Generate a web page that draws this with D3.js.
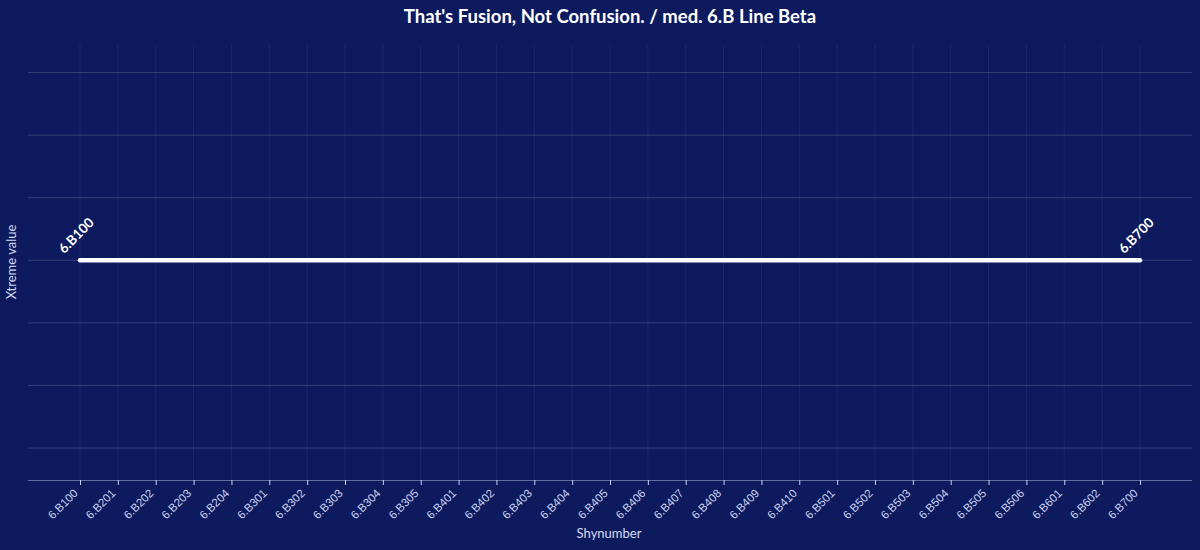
<!DOCTYPE html>
<html>
<head>
<meta charset="utf-8">
<script src="https://cdn.jsdelivr.net/npm/d3@7"></script>
<style>
  body { margin:0; background:#0d1b5e; }
  svg { display:block; font-family:"Source Sans Pro","Lato","Noto Sans",sans-serif; }
  .grid-y line { stroke:rgba(255,255,255,0.16); }
  .grid-x line { stroke:rgba(255,255,255,0.06); }
  .x-axis path { stroke:rgba(200,210,245,0.45); }
  .x-axis line { stroke:#c8d0f0; }
  .x-axis text { fill:#c8d0f0; font-size:11.5px; }
</style>
</head>
<body>
<div id="container"></div>
<script>
var categories = ["6.B100","6.B201","6.B202","6.B203","6.B204","6.B301","6.B302","6.B303","6.B304","6.B305",
  "6.B401","6.B402","6.B403","6.B404","6.B405","6.B406","6.B407","6.B408","6.B409","6.B410",
  "6.B501","6.B502","6.B503","6.B504","6.B505","6.B506","6.B601","6.B602","6.B700"];
var lineCategories = ["6.B100","6.B700"];
var lineValues = [0, 0];
var gridValues = [-3, -2, -1, 0, 1, 2, 3];

var W = 1200, H = 550;
var svg = d3.select("#container").append("svg")
  .attr("width", W).attr("height", H);

svg.append("rect").attr("width", W).attr("height", H).attr("fill", "#0d1b5e");

var plotLeft = 28, plotRight = 1192, plotTop = 45, plotBottom = 480;

var x = d3.scalePoint()
  .domain(categories)
  .range([plotLeft, plotRight])
  .padding(1.374);

var y = d3.scaleLinear()
  .domain([-3.51, 3.44])
  .range([plotBottom, plotTop]);

// horizontal grid
svg.append("g").attr("class", "grid-y")
  .selectAll("line").data(gridValues).enter().append("line")
    .attr("x1", plotLeft).attr("x2", plotRight)
    .attr("y1", function(d){ return y(d); })
    .attr("y2", function(d){ return y(d); });

// vertical grid
svg.append("g").attr("class", "grid-x")
  .selectAll("line").data(categories).enter().append("line")
    .attr("x1", function(d){ return x(d); })
    .attr("x2", function(d){ return x(d); })
    .attr("y1", plotTop).attr("y2", plotBottom);

// x axis
var xAxis = d3.axisBottom(x).tickSize(5).tickSizeOuter(0);
var gx = svg.append("g").attr("class", "x-axis")
  .attr("transform", "translate(0," + plotBottom + ")")
  .call(xAxis);
gx.select(".domain").attr("d", "M" + plotLeft + ",0.5H" + plotRight);
gx.selectAll(".tick text")
  .attr("text-anchor", "end")
  .attr("dy", null).attr("y", 0)
  .attr("transform", "translate(-2,14) rotate(-45)");

// line
var line = d3.line()
  .x(function(d){ return x(d.c); })
  .y(function(d){ return y(d.v); });
var pts = lineCategories.map(function(c, i){ return {c:c, v:lineValues[i]}; });

svg.append("path").datum(pts)
  .attr("d", line)
  .attr("fill", "none")
  .attr("stroke", "#ffffff")
  .attr("stroke-width", 4.5)
  .attr("stroke-linecap", "round");

svg.selectAll(".pt-label").data(pts).enter().append("text")
  .attr("class", "pt-label")
  .attr("transform", function(d){ return "translate(" + (x(d.c) - 4) + "," + (y(d.v) - 25) + ") rotate(-45)"; })
  .attr("text-anchor", "middle")
  .attr("dominant-baseline", "central")
  .attr("fill", "#ffffff")
  .attr("font-size", "13.5px")
  .attr("font-weight", "bold")
  .text(function(d){ return d.c; });

// title
svg.append("text")
  .attr("x", 610).attr("y", 23)
  .attr("text-anchor", "middle")
  .attr("fill", "#ffffff")
  .attr("font-size", "18.5px")
  .attr("font-weight", "bold")
  .text("That's Fusion, Not Confusion. / med. 6.B Line Beta");

// axis titles
svg.append("text")
  .attr("x", 609).attr("y", 538)
  .attr("text-anchor", "middle")
  .attr("fill", "#d5dbf5")
  .attr("font-size", "13px")
  .text("Shynumber");

svg.append("text")
  .attr("transform", "translate(16,262) rotate(-90)")
  .attr("text-anchor", "middle")
  .attr("fill", "#d5dbf5")
  .attr("font-size", "13px")
  .text("Xtreme value");
</script>
</body>
</html>
